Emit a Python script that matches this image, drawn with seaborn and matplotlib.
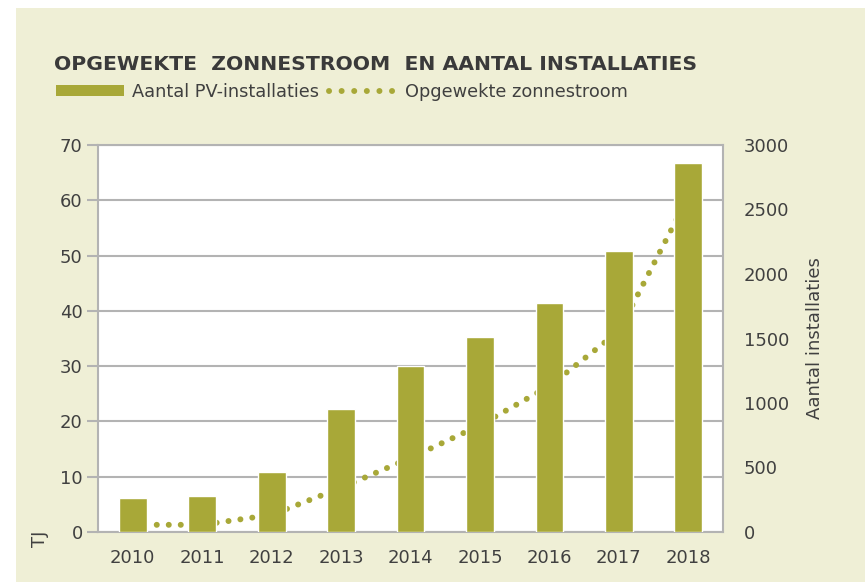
import matplotlib
matplotlib.use("Agg")
import matplotlib.pyplot as plt
from matplotlib.patches import Rectangle, Patch
from matplotlib.lines import Line2D
import pandas as pd
import seaborn as sns

# data
years = ["2010", "2011", "2012", "2013", "2014", "2015", "2016", "2017", "2018"]
installaties = [261, 278, 463, 953, 1285, 1510, 1775, 2180, 2858]  # right axis
zonnestroom_tj = [1.3, 1.3, 3.1, 8.0, 13.4, 19.3, 26.4, 36.3, 60.6]  # left axis
left_ticks = [0, 10, 20, 30, 40, 50, 60, 70]
right_ticks = [0, 500, 1000, 1500, 2000, 2500, 3000]

olive = "#a8a838"
beige = "#efefd6"
grey = "#b3b3b3"
txt = "#404040"

sns.set_style("white")
plt.rcParams["font.family"] = ["DejaVu Sans"]

df = pd.DataFrame({"jaar": years, "aantal": installaties, "tj": zonnestroom_tj})

W, H = 865, 582
fig = plt.figure(figsize=(W / 100, H / 100), dpi=100, facecolor="white")
fig.patches.append(Rectangle((16 / W, 0), 1, 1 - 8 / H, transform=fig.transFigure,
                             facecolor=beige, edgecolor="none", zorder=-10))

ax = fig.add_axes([98 / W, 50 / H, 625 / W, 387 / H])
ax.set_facecolor("white")
ax2 = ax.twinx()

# dotted line on the TJ axis (drawn first so the bars cover it)
sns.lineplot(data=df, x="jaar", y="tj", ax=ax, color=olive, linewidth=4.3, sort=False)
for ln in ax.lines:
    ln.set_linestyle((0, (0.01, 2.0)))
    ln.set_dash_capstyle("round")

# bars on the installaties axis
sns.barplot(data=df, x="jaar", y="aantal", ax=ax2, color=olive, saturation=1, width=0.4)

ax.set_xlim(-0.5, len(years) - 0.5)
ax.set_ylim(0, 70)
ax2.set_ylim(0, 3000)
ax.set_yticks(left_ticks)
ax2.set_yticks(right_ticks)
ax.grid(axis="y", color=grey, linewidth=1.5)
ax.grid(axis="x", visible=False)
ax.set_axisbelow(True)

for s in ax.spines.values():
    s.set_visible(True)
    s.set_color(grey)
    s.set_linewidth(1.5)
for s in ax2.spines.values():
    s.set_visible(False)

ax.tick_params(axis="y", length=8, width=1.5, color=grey, labelsize=13, labelcolor=txt, pad=3, left=True)
ax.tick_params(axis="x", length=0, labelsize=13, labelcolor=txt, pad=12)
ax2.tick_params(axis="y", length=0, labelsize=13, labelcolor=txt, pad=15)
ax2.tick_params(axis="x", length=0)

ax.set_xlabel("")
ax.set_ylabel("")
ax2.set_xlabel("")
ax2.set_ylabel("Aantal installaties", fontsize=13, color=txt, labelpad=12)
fig.text(40 / W, 1 - 539 / H, "TJ", rotation=90, ha="center", va="center", fontsize=13, color=txt)

fig.text(54 / W, 1 - 69.5 / H, "OPGEWEKTE  ZONNESTROOM  EN AANTAL INSTALLATIES",
         fontweight="bold", fontsize=14.7, color="#3a3a3a", va="baseline", ha="left")

handles = [Patch(facecolor=olive, edgecolor="none"),
           Line2D([], [], color=olive, linewidth=4.3, linestyle=(0, (0.01, 2.1)), dash_capstyle="round")]
fig.legend(handles, ["Aantal PV-installaties", "Opgewekte zonnestroom"], loc="center left",
           bbox_to_anchor=(56 / W, 1 - 92 / H), ncol=2, frameon=False, fontsize=12.8,
           labelcolor=txt, handlelength=3.8, handleheight=0.6, handletextpad=0.45,
           columnspacing=0.6, borderpad=0, borderaxespad=0)

fig.savefig("out.png", dpi=100, facecolor="white")
